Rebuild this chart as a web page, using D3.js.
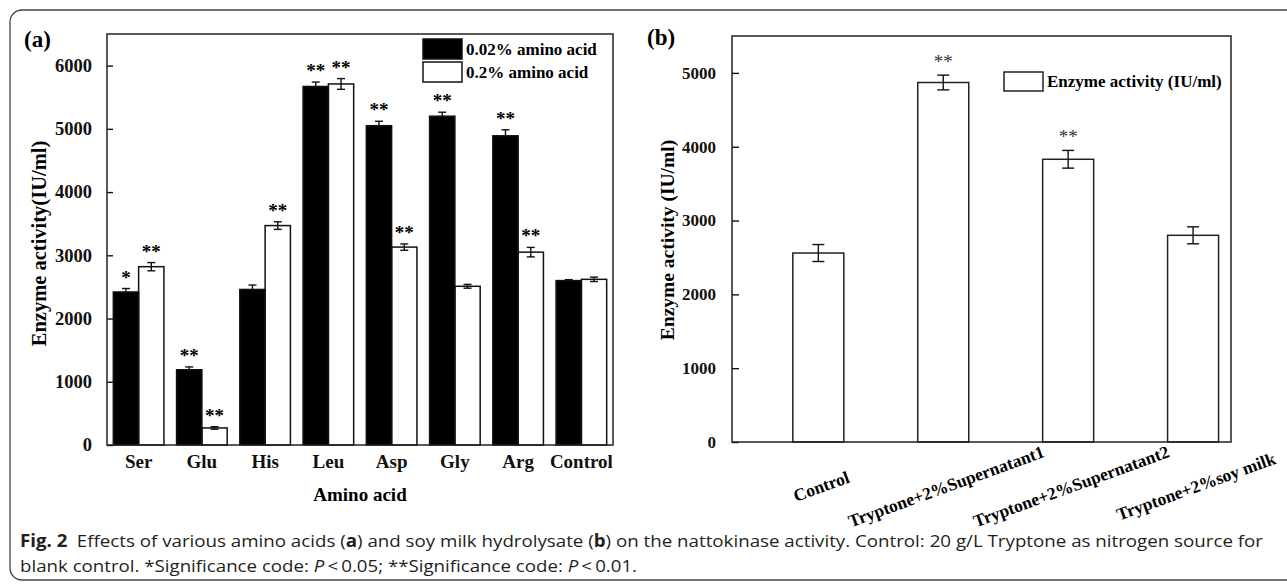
<!DOCTYPE html>
<meta charset="utf-8">
<head>
    <title>Nattokinase activity</title>
</head>
<style>
    body { margin: 0; background: #fff; }
    .serif { font-family: "Liberation Serif", "Times New Roman", serif; font-weight: bold; }
    .frame { fill: none; stroke: #222; stroke-width: 1.5px; }
    .caption { font-family: "Open Sans", "Noto Sans", sans-serif; fill: #231f20; }
</style>
<script src="https://d3js.org/d3.v7.min.js"></script>
<div id="my_viz"></div>
<script>

    // panel (a) data
    var aminoCats = ["Ser", "Glu", "His", "Leu", "Asp", "Gly", "Arg", "Control"];
    var lowVals  = [2420, 1190, 2460, 5670, 5050, 5200, 4890, 2600];
    var lowErr   = [55, 45, 70, 70, 70, 63, 95, 15];
    var lowSig   = ["*", "**", "", "**", "**", "**", "**", ""];
    var highVals = [2820, 270, 3470, 5710, 3130, 2510, 3050, 2620];
    var highErr  = [65, 20, 60, 85, 50, 30, 75, 35];
    var highSig  = ["**", "**", "**", "**", "**", "", "**", ""];
    var aTicks   = [0, 1000, 2000, 3000, 4000, 5000, 6000];
    var series   = ["0.02% amino acid", "0.2% amino acid"];

    // panel (b) data
    var milkCats = ["Control", "Tryptone+2%Supernatant1", "Tryptone+2%Supernatant2", "Tryptone+2%soy milk"];
    var milkVals = [2560, 4870, 3830, 2800];
    var milkErr  = [115, 100, 120, 115];
    var milkSig  = ["", "**", "**", ""];
    var bTicks   = [0, 1000, 2000, 3000, 4000, 5000];

    var W = 1287, H = 588;

    var svg = d3.select("#my_viz")
        .append("svg")
        .attr("width", W)
        .attr("height", H);

    // outer rounded frame (runs off the right edge)
    svg.append("rect")
        .attr("x", 10).attr("y", 10)
        .attr("width", 1300).attr("height", 570)
        .attr("rx", 12)
        .attr("fill", "none")
        .attr("stroke", "#444")
        .attr("stroke-width", 1.3);

    // ---------------- panel (a) ----------------
    var ma = { left: 107, top: 34, right: 613, bottom: 445 };
    var wa = ma.right - ma.left, ha = ma.bottom - ma.top;
    var ga = svg.append("g").attr("transform", "translate(" + ma.left + "," + ma.top + ")");

    var xa = d3.scaleBand().domain(aminoCats).range([0, wa]).paddingInner(0.2).paddingOuter(0.1);
    var xs = d3.scaleBand().domain(series).range([0, xa.bandwidth()]);
    var ya = d3.scaleLinear().domain([0, 6500]).range([ha, 0]);

    var rowsA = [];
    aminoCats.forEach(function (c, i) {
        rowsA.push({ cat: c, s: series[0], v: lowVals[i], e: lowErr[i], sig: lowSig[i] });
        rowsA.push({ cat: c, s: series[1], v: highVals[i], e: highErr[i], sig: highSig[i] });
    });

    // error bars (lower half white inside the black bars)
    var errA = ga.append("g").attr("stroke", "#111").attr("stroke-width", 1.4);
    rowsA.forEach(function (d) {
        var cx = xa(d.cat) + xs(d.s) + xs.bandwidth() / 2;
        var col = d.s === series[0] ? "#000" : "#111";
        errA.append("line").attr("x1", cx).attr("x2", cx).attr("y1", ya(d.v + d.e)).attr("y2", ya(d.v));
        errA.append("line").attr("x1", cx - 4).attr("x2", cx + 4).attr("y1", ya(d.v + d.e)).attr("y2", ya(d.v + d.e));
        errA.append("line").attr("x1", cx).attr("x2", cx).attr("y1", ya(d.v)).attr("y2", ya(d.v - d.e)).attr("stroke", col);
        errA.append("line").attr("x1", cx - 4).attr("x2", cx + 4).attr("y1", ya(d.v - d.e)).attr("y2", ya(d.v - d.e)).attr("stroke", col);
    });

    ga.append("g").selectAll("rect")
        .data(rowsA)
        .enter()
        .append("rect")
        .attr("x", function (d) { return xa(d.cat) + xs(d.s); })
        .attr("y", function (d) { return ya(d.v); })
        .attr("width", xs.bandwidth())
        .attr("height", function (d) { return ha - ya(d.v); })
        .attr("fill", function (d) { return d.s === series[0] ? "#000" : "none"; })
        .attr("stroke", "#111")
        .attr("stroke-width", 1.5);

    // significance stars
    ga.append("g").selectAll("text")
        .data(rowsA.filter(function (d) { return d.sig; }))
        .enter()
        .append("text")
        .attr("class", "serif")
        .attr("x", function (d) { return xa(d.cat) + xs(d.s) + xs.bandwidth() / 2; })
        .attr("y", function (d) { return ya(d.v + d.e) - 5; })
        .attr("text-anchor", "middle")
        .style("font-size", "19px")
        .text(function (d) { return d.sig; });

    // axes
    ga.append("g")
        .attr("class", "serif")
        .call(d3.axisLeft(ya).tickValues(aTicks).tickFormat(d3.format("d")).tickSizeInner(-6).tickSizeOuter(0).tickPadding(15))
        .call(function (g) { g.select(".domain").remove(); })
        .call(function (g) { g.selectAll("text").style("font-size", "18.5px").attr("fill", "#111"); })
        .call(function (g) { g.selectAll("line").attr("stroke", "#111").attr("stroke-width", 1.4); });

    ga.append("g")
        .attr("class", "serif")
        .attr("transform", "translate(0," + ha + ")")
        .call(d3.axisBottom(xa).tickSize(0).tickPadding(10))
        .call(function (g) { g.select(".domain").remove(); })
        .call(function (g) { g.selectAll("text").style("font-size", "19px").attr("fill", "#111"); });

    ga.append("rect").attr("class", "frame").attr("width", wa).attr("height", ha);

    // legend
    var lga = ga.append("g").attr("transform", "translate(" + (wa - 190) + ",5)");
    series.forEach(function (s, i) {
        lga.append("rect")
            .attr("x", 0).attr("y", i * 23)
            .attr("width", 39).attr("height", 20)
            .attr("fill", i === 0 ? "#000" : "#fff")
            .attr("stroke", "#111").attr("stroke-width", 1.5);
        lga.append("text")
            .attr("class", "serif")
            .attr("x", 43).attr("y", i * 23 + 16)
            .style("font-size", "17px")
            .text(s);
    });

    svg.append("text").attr("class", "serif")
        .attr("x", 24).attr("y", 47)
        .style("font-size", "23px")
        .text("(a)");

    svg.append("text").attr("class", "serif")
        .attr("transform", "translate(46," + (ma.top + ha / 2 + 4) + ") rotate(-90)")
        .attr("text-anchor", "middle")
        .style("font-size", "20.5px")
        .text("Enzyme activity(IU/ml)");

    svg.append("text").attr("class", "serif")
        .attr("x", ma.left + wa / 2).attr("y", 501)
        .attr("text-anchor", "middle")
        .style("font-size", "19px")
        .text("Amino acid");

    // ---------------- panel (b) ----------------
    var mb = { left: 732, top: 36, right: 1231, bottom: 442 };
    var wb = mb.right - mb.left, hb = mb.bottom - mb.top;
    var gb = svg.append("g").attr("transform", "translate(" + mb.left + "," + mb.top + ")");

    var xb = d3.scalePoint().domain(milkCats).range([wb * 0.173, wb * 0.924]);
    var yb = d3.scaleLinear().domain([0, 5500]).range([hb, 0]);
    var bw = 51;

    var rowsB = milkCats.map(function (c, i) {
        return { cat: c, v: milkVals[i], e: milkErr[i], sig: milkSig[i] };
    });

    gb.append("g").selectAll("rect")
        .data(rowsB)
        .enter()
        .append("rect")
        .attr("x", function (d) { return xb(d.cat) - bw / 2; })
        .attr("y", function (d) { return yb(d.v); })
        .attr("width", bw)
        .attr("height", function (d) { return hb - yb(d.v); })
        .attr("fill", "#fff")
        .attr("stroke", "#222")
        .attr("stroke-width", 1.5);

    var errB = gb.append("g").attr("stroke", "#111").attr("stroke-width", 1.4);
    rowsB.forEach(function (d) {
        var cx = xb(d.cat);
        errB.append("line").attr("x1", cx).attr("x2", cx).attr("y1", yb(d.v + d.e)).attr("y2", yb(d.v - d.e));
        errB.append("line").attr("x1", cx - 6).attr("x2", cx + 6).attr("y1", yb(d.v + d.e)).attr("y2", yb(d.v + d.e));
        errB.append("line").attr("x1", cx - 6).attr("x2", cx + 6).attr("y1", yb(d.v - d.e)).attr("y2", yb(d.v - d.e));
    });

    gb.append("g").selectAll("text")
        .data(rowsB.filter(function (d) { return d.sig; }))
        .enter()
        .append("text")
        .attr("x", function (d) { return xb(d.cat); })
        .attr("y", function (d) { return yb(d.v + d.e) - 7; })
        .attr("text-anchor", "middle")
        .style("font-family", "'Liberation Serif', serif")
        .style("font-size", "19px")
        .attr("fill", "#333")
        .text(function (d) { return d.sig; });

    gb.append("g")
        .attr("class", "serif")
        .call(d3.axisLeft(yb).tickValues(bTicks).tickFormat(d3.format("d")).tickSizeInner(-7).tickSizeOuter(0).tickPadding(16))
        .call(function (g) { g.select(".domain").remove(); })
        .call(function (g) { g.selectAll("text").style("font-size", "17px").attr("fill", "#111"); })
        .call(function (g) { g.selectAll("line").attr("stroke", "#111").attr("stroke-width", 1.4); });

    // rotated category labels
    gb.append("g").selectAll("text")
        .data(milkCats)
        .enter()
        .append("text")
        .attr("class", "serif")
        .attr("transform", function (d) { return "translate(" + (xb(d) + 5) + "," + (hb + 50) + ") rotate(-20)"; })
        .attr("text-anchor", "middle")
        .style("font-size", "17.5px")
        .text(function (d) { return d; });

    gb.append("rect").attr("class", "frame").attr("width", wb).attr("height", hb);

    var lgb = gb.append("g").attr("transform", "translate(" + (wb - 227) + ",36)");
    lgb.append("rect")
        .attr("width", 39).attr("height", 19)
        .attr("fill", "#fff").attr("stroke", "#222").attr("stroke-width", 1.5);
    lgb.append("text").attr("class", "serif")
        .attr("x", 43).attr("y", 15)
        .style("font-size", "17px")
        .text("Enzyme activity (IU/ml)");

    svg.append("text").attr("class", "serif")
        .attr("x", 647).attr("y", 45)
        .style("font-size", "23px")
        .text("(b)");

    svg.append("text").attr("class", "serif")
        .attr("transform", "translate(674," + (mb.top + hb / 2 + 1) + ") rotate(-90)")
        .attr("text-anchor", "middle")
        .style("font-size", "19.5px")
        .text("Enzyme activity (IU/ml)");

    // ---------------- caption ----------------
    var cap1 = svg.append("text").attr("class", "caption")
        .attr("x", 20).attr("y", 547)
        .attr("textLength", 1243).attr("lengthAdjust", "spacingAndGlyphs")
        .style("font-size", "17px");
    cap1.append("tspan").style("font-weight", "bold").text("Fig. 2");
    cap1.append("tspan").text("\u2002Effects of various amino acids (");
    cap1.append("tspan").style("font-weight", "bold").text("a");
    cap1.append("tspan").text(") and soy milk hydrolysate (");
    cap1.append("tspan").style("font-weight", "bold").text("b");
    cap1.append("tspan").text(") on the nattokinase activity. Control: 20 g/L Tryptone as nitrogen source for");

    var cap2 = svg.append("text").attr("class", "caption")
        .attr("x", 20).attr("y", 572)
        .attr("textLength", 617).attr("lengthAdjust", "spacingAndGlyphs")
        .style("font-size", "17px");
    cap2.append("tspan").text("blank control. *Significance code: ");
    cap2.append("tspan").style("font-style", "italic").text("P");
    cap2.append("tspan").text("\u2009<\u20090.05; **Significance code: ");
    cap2.append("tspan").style("font-style", "italic").text("P");
    cap2.append("tspan").text("\u2009<\u20090.01.");

</script>
